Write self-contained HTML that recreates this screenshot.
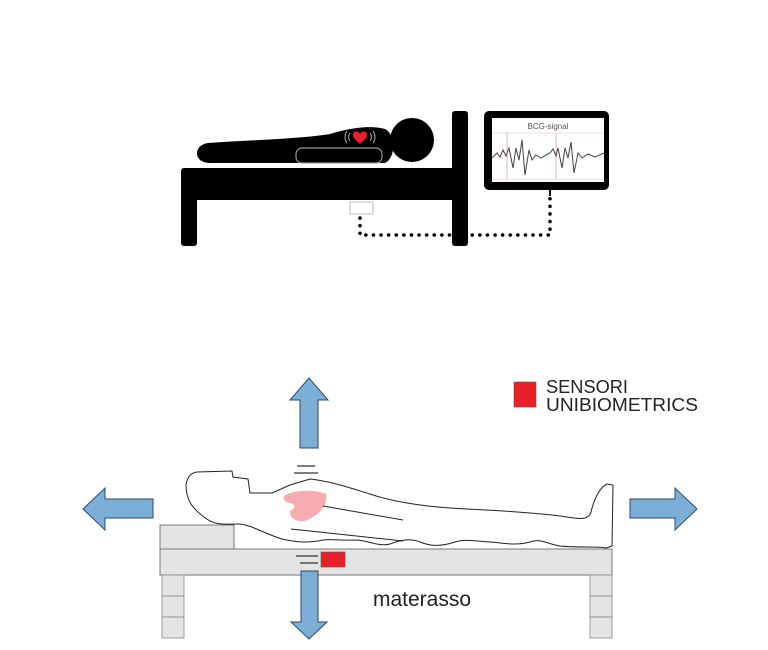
<!DOCTYPE html>
<html><head><meta charset="utf-8"><style>
html,body{margin:0;padding:0;background:#fff;}
svg{display:block;}
</style></head><body>
<svg width="768" height="650" viewBox="0 0 768 650" xmlns="http://www.w3.org/2000/svg">
<!-- TOP -->
<rect x="181" y="168" width="280" height="32" rx="3" fill="#000"/>
<rect x="181" y="190" width="16" height="56" rx="3" fill="#000"/>
<rect x="452" y="111" width="16" height="135" rx="3" fill="#000"/>
<path d="M208,143 C250,140 300,139 330,134 C350,128 370,125 385,129 C396,134 396,158 385,163 L210,163 C193,163 193,145 208,143 Z" fill="#000"/>
<rect x="296" y="148" width="86" height="15" rx="6" fill="#000" stroke="#999" stroke-width="1.2"/>
<path d="M360,134 c-2,-4 -8,-3 -7,2 c1,3 5,6 7,8 c2,-2 6,-5 7,-8 c1,-5 -5,-6 -7,-2z" fill="#e8202a"/>
<path d="M350,133 q-3,4 0,8 M347,131 q-4,6 0,12 M370,133 q3,4 0,8 M373,131 q4,6 0,12" stroke="#aaa" stroke-width="1" fill="none"/>
<circle cx="412" cy="140" r="22" fill="#000"/>
<rect x="484" y="111" width="125" height="79" rx="5" fill="#000"/>
<rect x="492" y="118" width="112" height="64" fill="#fff"/>
<line x1="492" y1="133" x2="604" y2="133" stroke="#e7c0c0" stroke-width="0.6"/>
<line x1="492" y1="179" x2="604" y2="179" stroke="#e7c0c0" stroke-width="0.6"/>
<line x1="507" y1="133" x2="507" y2="179" stroke="#e6a0a0" stroke-width="0.8"/>
<line x1="556" y1="133" x2="556" y2="179" stroke="#e6a0a0" stroke-width="0.8"/>
<text x="548" y="129" font-family="Liberation Sans, sans-serif" font-size="8" fill="#555" text-anchor="middle">BCG-signal</text>
<path d="M492,158 L497,153 L500,157 L503,150 L506,156 L509,148 L513,168 L516,148 L519,160 L522,140 L525,175 L529,150 L532,160 L536,155 L541,158 L546,155 L550,153 L553,149 L556,156 L558,148 L562,168 L565,148 L568,158 L571,142 L574,173 L578,153 L582,158 L588,154 L595,157 L604,153" stroke="#444" stroke-width="1" fill="none"/>
<line x1="550" y1="190" x2="550" y2="196" stroke="#000" stroke-width="2"/>
<rect x="350" y="202" width="23" height="12" fill="#fff" stroke="#bbb" stroke-width="1"/>
<path d="M360,218 L360,235 L550,235 L550,197" stroke="#000" stroke-width="3.5" stroke-dasharray="0.1 7.5" stroke-linecap="round" fill="none"/>
<!-- BOTTOM -->
<rect x="160" y="525" width="74" height="24" fill="#e4e4e4" stroke="#777" stroke-width="1"/>
<rect x="160" y="549" width="452" height="26" fill="#e4e4e4" stroke="#777" stroke-width="1"/>
<g fill="#e4e4e4" stroke="#888" stroke-width="0.8">
<rect x="162" y="575" width="22" height="21"/><rect x="162" y="596" width="22" height="21"/><rect x="162" y="617" width="22" height="21"/>
<rect x="590" y="575" width="22" height="21"/><rect x="590" y="596" width="22" height="21"/><rect x="590" y="617" width="22" height="21"/>
</g>
<path d="M197,472 L232,471 L233,477 L248,479 L250,493 L272,493 L290,485 L310,479 C330,481 350,488 370,494 C390,501 420,506 450,508 C480,510 520,511 560,516 C575,518 588,522 591,512 C595,495 602,486 607,484 L613,485 L612,546 L606,548 C595,546 580,548 560,546 C548,544 540,538 530,542 C515,546 505,543 490,542 C475,541 465,539 455,542 C440,547 430,546 420,542 C410,538 400,540 390,544 C378,547 368,540 355,540 C340,541 330,538 318,541 C305,543 295,542 282,539 C265,534 250,524 238,524 C225,524 215,526 204,517 C192,508 186,500 186,485 C187,478 190,473 197,472 Z" fill="#fff" stroke="#222" stroke-width="1"/>
<path d="M285,495 C295,490 315,489 326,494 C328,505 320,515 305,521 C295,522 290,518 290,511 C296,508 296,505 290,503 C284,502 282,498 285,495 Z" fill="#f6abb0"/>
<path d="M323,506 L403,520 M291,529 L403,541" stroke="#222" stroke-width="1" fill="none"/>
<path d="M297,466 L315,466 M294,473 L318,473 M296,556 L318,556 M300,563 L318,563" stroke="#333" stroke-width="1.2"/>
<rect x="321" y="552" width="24" height="15" fill="#e8202a" stroke="#555" stroke-width="0.6"/>
<g fill="#7bafd8" stroke="#2d4a66" stroke-width="1">
<path d="M309,378 L328,400 L318,400 L318,448 L300,448 L300,400 L290,400 Z"/>
<path d="M309,639 L327,622 L318,622 L318,571 L301,571 L301,622 L291,622 Z"/>
<path d="M83,509 L105,488 L105,499 L153,499 L153,518 L105,518 L105,530 Z"/>
<path d="M697,509 L675,488 L675,499 L630,499 L630,518 L675,518 L675,530 Z"/>
</g>
<rect x="514" y="382" width="22" height="25" fill="#e8202a" stroke="#555" stroke-width="0.6"/>
<text x="546" y="393" font-family="Liberation Sans, sans-serif" font-size="18" fill="#222" textLength="82" lengthAdjust="spacingAndGlyphs">SENSORI</text>
<text x="546" y="411" font-family="Liberation Sans, sans-serif" font-size="18" fill="#222" textLength="152" lengthAdjust="spacingAndGlyphs">UNIBIOMETRICS</text>
<text x="373" y="606" font-family="Liberation Sans, sans-serif" font-size="21" fill="#222">materasso</text>
</svg>
</body></html>
